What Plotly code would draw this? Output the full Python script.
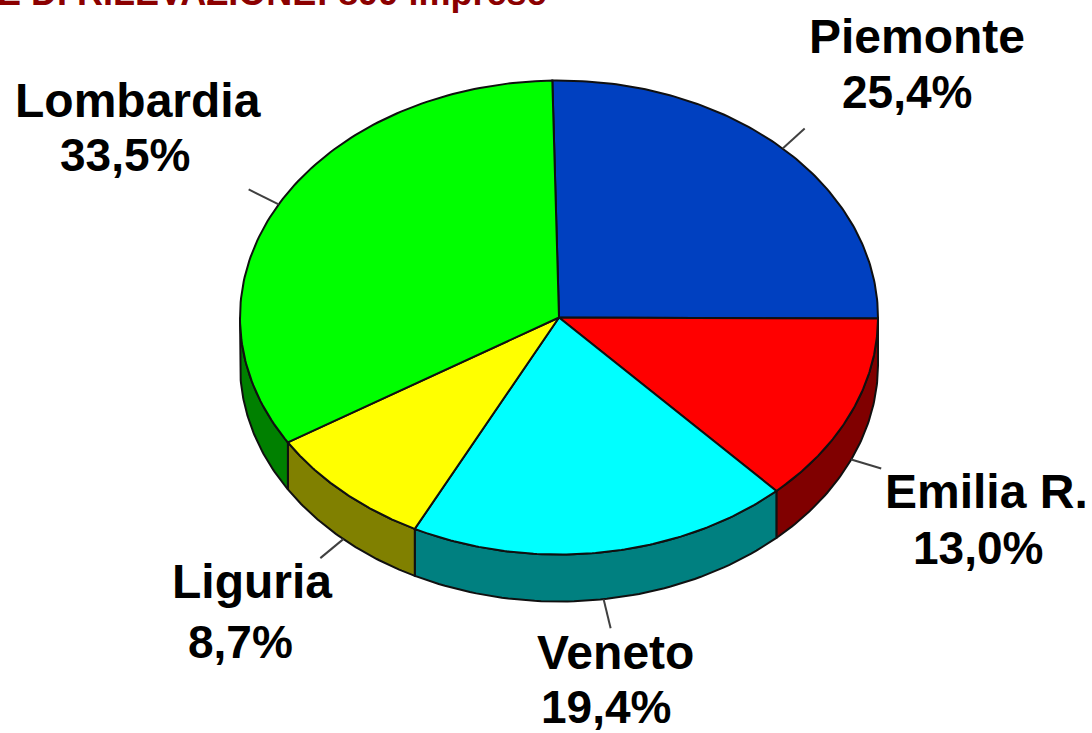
import numpy as np
import plotly.graph_objects as go

# Data (clockwise from 12 o'clock)
regions = ["Piemonte", "Emilia R.", "Veneto", "Liguria", "Lombardia"]
shares = [25.4, 13.0, 19.4, 8.7, 33.5]
share_labels = ["25,4%", "13,0%", "19,4%", "8,7%", "33,5%"]
header_text = "E DI RILEVAZIONE: 899 imprese"

# Style
top_colors = ["#0040C0", "#FF0000", "#00FFFF", "#FFFF00", "#00FF00"]
side_colors = ["#002060", "#800000", "#008080", "#808000", "#008000"]
name_pos = [(917, 36), (986, 491), (615, 652), (252, 581), (138, 100)]
pct_pos = [(907, 92), (978, 548), (606, 707), (240, 642), (125, 155)]
leader_out = [(22, -20), (30, 9), (7, 29), (-23, 19), (-30, -15)]
START_DEG = -1.2
CX, CY, RX, RY, DEPTH = 559, 317.5, 319, 237, 47
EDGE = "#101010"
FONT = "Liberation Sans"
NAME_SIZE = 48
PCT_SIZE = 46


def rim(deg, drop=0):
    t = np.radians(deg)
    return CX + RX * np.sin(t), CY - RY * np.cos(t) + drop


fig = go.Figure()
total = sum(shares)
edges = np.concatenate([[0], np.cumsum(shares)]) * 360 / total + START_DEG


def poly(xs, ys, color, width=2):
    fig.add_trace(go.Scatter(x=xs, y=ys, mode="lines", fill="toself", fillcolor=color,
                             line=dict(color=EDGE, width=width), hoverinfo="skip", showlegend=False))


# Side walls: only the front half of the rim is visible
for i in range(len(shares)):
    a0, a1 = max(edges[i], 90), min(edges[i + 1], 270)
    if a1 <= a0:
        continue
    arc = np.linspace(a0, a1, 60)
    x0, y0 = rim(arc)
    x1, y1 = rim(arc[::-1], DEPTH)
    poly(np.r_[x0, x1, x0[0]], np.r_[y0, y1, y0[0]], side_colors[i])

# Top faces
for i in range(len(shares)):
    arc = np.linspace(edges[i], edges[i + 1], 120)
    x0, y0 = rim(arc)
    poly(np.r_[CX, x0, CX], np.r_[CY, y0, CY], top_colors[i])

# Leader lines from the mid angle of each slice
for i in range(len(shares)):
    mid = (edges[i] + edges[i + 1]) / 2
    drop = DEPTH if 90 < mid < 270 else 0
    sx, sy = rim(mid, drop)
    dx, dy = leader_out[i]
    fig.add_trace(go.Scatter(x=[sx, sx + dx], y=[sy, sy + dy], mode="lines",
                             line=dict(color="#404040", width=2), hoverinfo="skip", showlegend=False))

# Labels
for i in range(len(shares)):
    for (px, py), txt, size in ((name_pos[i], regions[i], NAME_SIZE), (pct_pos[i], share_labels[i], PCT_SIZE)):
        fig.add_annotation(x=px, y=py, xref="x", yref="y", showarrow=False, borderpad=0,
                           text=f"<b>{txt}</b>",
                           font=dict(family=FONT, size=size, color="#000000"))

fig.add_annotation(x=549, y=15, xref="x", yref="y", xanchor="right", yanchor="bottom", showarrow=False,
                   text=f"<b>{header_text}</b>", font=dict(family=FONT, size=36, color="#8B0000"))

fig.update_layout(width=1092, height=733, margin=dict(l=0, r=0, t=0, b=0),
                  paper_bgcolor="white", plot_bgcolor="white", showlegend=False,
                  xaxis=dict(range=[0, 1092], visible=False, fixedrange=True),
                  yaxis=dict(range=[733, 0], visible=False, fixedrange=True))

fig.write_html("out.html", config=dict(displayModeBar=False),
               post_script="document.body.style.margin='0';document.body.style.overflow='hidden';")
